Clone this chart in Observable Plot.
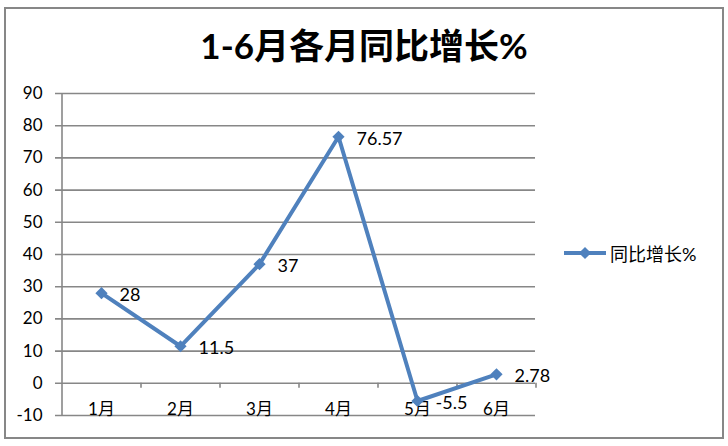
<!DOCTYPE html>
<html>
<head>
<meta charset="utf-8">
<script src="https://cdn.jsdelivr.net/npm/d3@7"></script>
<script src="https://cdn.jsdelivr.net/npm/@observablehq/plot@0.6"></script>
<style>
  html, body { margin: 0; padding: 0; background: #fff; }
  #wrap { position: relative; width: 728px; height: 446px; overflow: hidden; font-family: Lato, "Noto Sans CJK SC", sans-serif; }
  #border { position: absolute; left: 4px; top: 7px; width: 716px; height: 428px; border: 2px solid #878787; }
  #title { position: absolute; left: 0; width: 728px; top: 21px; text-align: center; font-size: 35px; font-weight: bold; color: #000; line-height: 48px; }
  #chart { position: absolute; left: 0; top: 0; }
  #legend { position: absolute; left: 564px; top: 240px; display: flex; align-items: center; font-size: 18px; color: #000; }
  #legend svg { margin-right: 4px; }
</style>
</head>
<body>
<div id="wrap">
  <div id="border"></div>
  <div id="chart"></div>
  <div id="title">1-6月各月同比增长%</div>
  <div id="legend"></div>
</div>
<script>
const months = ["1月", "2月", "3月", "4月", "5月", "6月"];
const values = [28, 11.5, 37, 76.57, -5.5, 2.78];
const labels = ["28", "11.5", "37", "76.57", "-5.5", "2.78"];
const yTicks = [-10, 0, 10, 20, 30, 40, 50, 60, 70, 80, 90];
const seriesName = "同比增长%";

const data = months.map((m, i) => ({month: m, value: values[i], label: labels[i]}));
const W = 728, H = 446, mL = 61, mR = 193, mT = 93, mB = 31;
const step = (W - mL - mR) / months.length;
const blue = "#4F81BD", grid = "#878787";
const font = 'Lato, "Noto Sans CJK SC", sans-serif';

const chart = Plot.plot({
  width: W, height: H,
  marginLeft: mL, marginRight: mR, marginTop: mT, marginBottom: mB,
  style: {fontFamily: font, background: "transparent", color: "#000"},
  x: {type: "point", domain: months, padding: 0.5, axis: null},
  y: {domain: [-10, 90], axis: null},
  marks: [
    Plot.ruleY(yTicks, {stroke: grid, strokeWidth: 1.6, insetLeft: -6}),
    Plot.ruleX([0], {x: () => months[0], dx: -step / 2, y1: -10, y2: 90, stroke: grid, strokeWidth: 1.6}),
    Plot.ruleX(months, {x: d => d, dx: step / 2, y1: 0, y2: 0, insetBottom: -5, stroke: grid, strokeWidth: 1.6}),
    Plot.text(yTicks, {y: d => d, text: d => String(d), frameAnchor: "left", dx: -19, textAnchor: "end", fontSize: 17, fill: "#000"}),
    Plot.text(months, {x: d => d, y: -10, dy: -6, text: d => d, fontSize: 17, fill: "#000"}),
    Plot.line(data, {x: "month", y: "value", stroke: blue, strokeWidth: 4}),
    Plot.dot(data, {x: "month", y: "value", symbol: "diamond2", r: 5.5, fill: blue}),
    Plot.text(data, {x: "month", y: "value", text: "label", dx: 18, dy: 2, textAnchor: "start", fontSize: 18, fill: "#000"})
  ]
});
document.getElementById("chart").appendChild(chart);

const leg = document.getElementById("legend");
const sw = d3.create("svg").attr("width", 42).attr("height", 14);
sw.append("line").attr("x1", 0).attr("x2", 42).attr("y1", 7).attr("y2", 7).attr("stroke", blue).attr("stroke-width", 4);
sw.append("path").attr("d", d3.symbol(d3.symbolDiamond2, Math.PI * 30)()).attr("transform", "translate(21,7)").attr("fill", blue);
leg.appendChild(sw.node());
const lt = document.createElement("span");
lt.textContent = seriesName;
leg.appendChild(lt);
</script>
</body>
</html>
